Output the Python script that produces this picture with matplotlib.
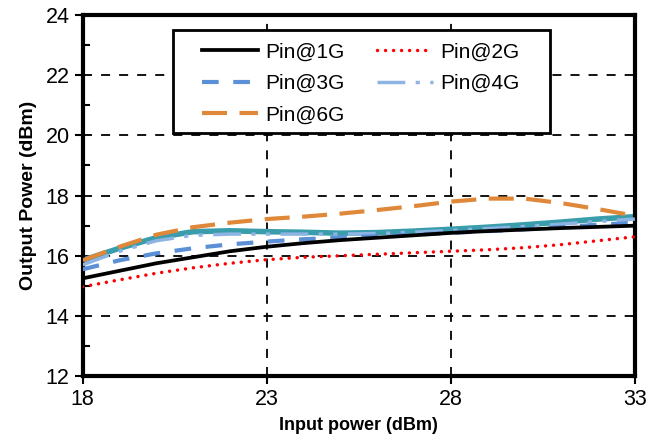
import matplotlib
matplotlib.use("Agg")
import matplotlib.pyplot as plt
from matplotlib.ticker import MultipleLocator
from matplotlib.patches import Rectangle

plt.rcParams['font.family'] = ['Liberation Sans', 'DejaVu Sans']

# donnees
pin = [18, 19, 20, 21, 22, 23, 24, 25, 26, 27, 28, 29, 30, 31, 32, 33]
pout_1g = [15.25, 15.5, 15.75, 15.95, 16.15, 16.3, 16.42, 16.52, 16.6, 16.68, 16.76, 16.82, 16.87, 16.92, 16.96, 17.0]
pout_2g = [14.97, 15.2, 15.42, 15.6, 15.75, 15.87, 15.95, 16.0, 16.05, 16.1, 16.15, 16.2, 16.27, 16.37, 16.5, 16.63]
pout_3g = [15.55, 15.85, 16.08, 16.25, 16.38, 16.47, 16.55, 16.6, 16.65, 16.7, 16.76, 16.82, 16.88, 16.95, 17.03, 17.1]
pout_4g = [15.7, 16.15, 16.5, 16.68, 16.72, 16.72, 16.72, 16.72, 16.74, 16.78, 16.84, 16.9, 16.97, 17.05, 17.14, 17.22]
pout_5g = [15.85, 16.25, 16.6, 16.8, 16.83, 16.8, 16.78, 16.75, 16.77, 16.82, 16.88, 16.95, 17.03, 17.12, 17.22, 17.3]
pout_6g = [15.85, 16.3, 16.7, 16.95, 17.1, 17.22, 17.3, 17.4, 17.52, 17.65, 17.8, 17.9, 17.9, 17.75, 17.55, 17.33]
x_ticks = [18, 23, 28, 33]

fig = plt.figure(figsize=(6.62, 4.43), dpi=100)
ax = fig.add_axes([0.125, 0.151, 0.834, 0.815])

ax.plot(pin, pout_5g, color='#3a9dab', lw=4, zorder=2)
ax.plot(pin, pout_4g, color='#8db4e2', lw=2.5, dashes=(8, 3, 1.2, 3, 1.2, 3), label='Pin@4G', zorder=3)
ax.plot(pin, pout_6g, color='#e0883a', lw=3, dashes=(6, 3), label='Pin@6G', zorder=3)
ax.plot(pin, pout_3g, color='#5b8fd6', lw=3, dashes=(4, 3.5), label='Pin@3G', zorder=4)
ax.plot(pin, pout_1g, color='black', lw=2.7, label='Pin@1G', zorder=4)
ax.plot(pin, pout_2g, color='#ff0000', lw=2.5, linestyle=(0, (0.01, 2.3)),
        dash_capstyle='round', label='Pin@2G', zorder=4)

ax.set_xlim(18, 33)
ax.set_ylim(12, 24)
ax.set_xticks(x_ticks)
ax.yaxis.set_major_locator(MultipleLocator(2))
ax.yaxis.set_minor_locator(MultipleLocator(1))
ax.grid(True, which='major', color='black', linestyle=(0, (5, 5)), lw=1.3)
ax.tick_params(which='major', direction='out', length=6, width=1.5, labelsize=15.5)
ax.tick_params(which='minor', direction='in', length=5, width=1.5)
for s in ax.spines.values():
    s.set_linewidth(3)

ax.set_xlabel('Input power (dBm)', fontsize=13, fontweight='bold', labelpad=5)
ax.set_ylabel('Output Power (dBm)', fontsize=14, fontweight='bold', labelpad=6)

# cadre de la legende
ax.add_patch(Rectangle((0.163, 0.673), 0.683, 0.285, transform=ax.transAxes,
                       facecolor='white', edgecolor='black', lw=2, zorder=5))

# ordre colonne par colonne pour avoir 1G 2G / 3G 4G / 6G
h, l = ax.get_legend_handles_labels()
order = ['Pin@1G', 'Pin@3G', 'Pin@6G', 'Pin@2G', 'Pin@4G']
hh = [h[l.index(o)] for o in order]
leg = ax.legend(hh, order, ncol=2, loc='center', bbox_to_anchor=(0.503, 0.81),
                fontsize=15, frameon=False, handlelength=2.7, handletextpad=0.35,
                columnspacing=1.55, borderpad=0, labelspacing=0.6, borderaxespad=0)
leg.set_zorder(6)

fig.savefig('out.png', dpi=100)
